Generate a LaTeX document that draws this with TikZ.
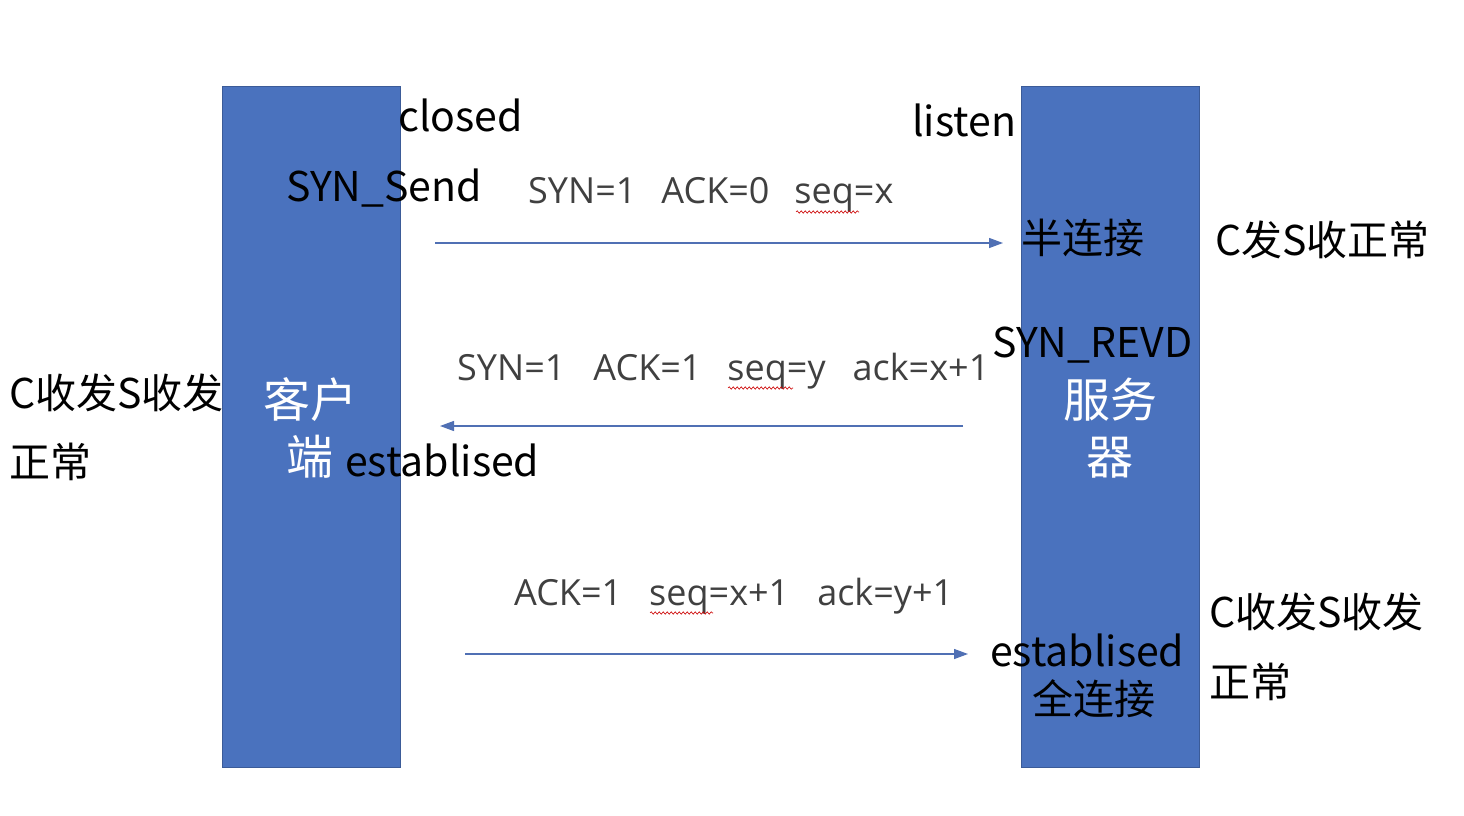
\documentclass[tikz,border=0pt]{standalone}
\usepackage{fontspec}
\setmainfont{Noto Sans CJK SC}
\newfontfamily\msgfont{Open Sans}
\usetikzlibrary{arrows.meta,decorations.pathmorphing}
\definecolor{barblue}{RGB}{74,114,190}
\definecolor{arrowblue}{RGB}{80,112,180}
\definecolor{msggray}{RGB}{64,64,64}
\begin{document}
\begin{tikzpicture}[x=1pt,y=-1pt,
  bar/.style={draw=barblue!80!black,line width=1pt,fill=barblue},
  big/.style={font=\fontsize{41}{44}\selectfont,inner sep=0pt,anchor=west,text=black},
  wbig/.style={font=\fontsize{47}{57}\selectfont,inner sep=0pt,text=white,align=center},
  msg/.style={font=\msgfont\fontsize{36}{40}\selectfont,inner sep=0pt,anchor=west,text=msggray},
  msgarrow/.style={draw=arrowblue,line width=1.3pt,-{Triangle[length=14pt,width=10pt]}},
  squig/.style={draw=red!80!black,line width=0.6pt,decorate,decoration={snake,amplitude=1.2pt,segment length=4pt}}]
\useasboundingbox (0,0) rectangle (1464,816);
\fill[white] (0,0) rectangle (1464,816);
% bars
\node[bar,minimum width=178pt,minimum height=681pt,inner sep=0pt,anchor=north west] (client) at (222,86) {};
\node[bar,minimum width=178pt,minimum height=681pt,inner sep=0pt,anchor=north west] (server) at (1021,86) {};
% bar labels
\node[wbig,anchor=center] (kh) at (310,428) {客户\\端};
\node[wbig,anchor=center] (fwq) at (1110,428) {服务\\器};
% state labels
\node[big] (closed) at (398,115) {closed};
\node[big] (synsend) at (286,188) {SYN\_Send};
\node[big] (listen) at (912,120) {listen};
\node[big] (half) at (1021,238) {半连接};
\node[big] (csok) at (1215,240) {C发S收正常};
\node[big] (synrevd) at (992,345) {SYN\_REVD};
\node[big] (estc) at (345,460) {establised};
\node[big] (cl1) at (9,393) {C收发S收发};
\node[big] (cl2) at (9,462) {正常};
\node[big] (ests) at (990,650) {establised};
\node[big] (full) at (1032,699) {全连接};
\node[big] (cr1) at (1209,612) {C收发S收发};
\node[big] (cr2) at (1209,682) {正常};
% message labels
\node[msg] (m1) at (528,195) {SYN=1\hspace{25pt}ACK=0\hspace{25pt}seq=x};
\node[msg] (m2) at (457,371) {SYN=1\hspace{28pt}ACK=1\hspace{26pt}seq=y\hspace{27pt}ack=x+1};
\node[msg] (m3) at (514,596) {ACK=1\hspace{27pt}seq=x+1\hspace{28pt}ack=y+1};
% squiggles under seq
\coordinate (s1a) at (796,212); \coordinate (s1b) at (859,212);
\coordinate (s2a) at (728,388); \coordinate (s2b) at (793,388);
\coordinate (s3a) at (650,613); \coordinate (s3b) at (713,613);
\draw[squig] (s1a) -- (s1b);
\draw[squig] (s2a) -- (s2b);
\draw[squig] (s3a) -- (s3b);
% arrows
\coordinate (a1s) at (435,243); \coordinate (a1e) at (1003,243);
\coordinate (a2s) at (963,426); \coordinate (a2e) at (440,426);
\coordinate (a3s) at (465,654); \coordinate (a3e) at (968,654);
\draw[msgarrow] (a1s) -- (a1e);
\draw[msgarrow] (a2s) -- (a2e);
\draw[msgarrow] (a3s) -- (a3e);
\end{tikzpicture}
\end{document}
